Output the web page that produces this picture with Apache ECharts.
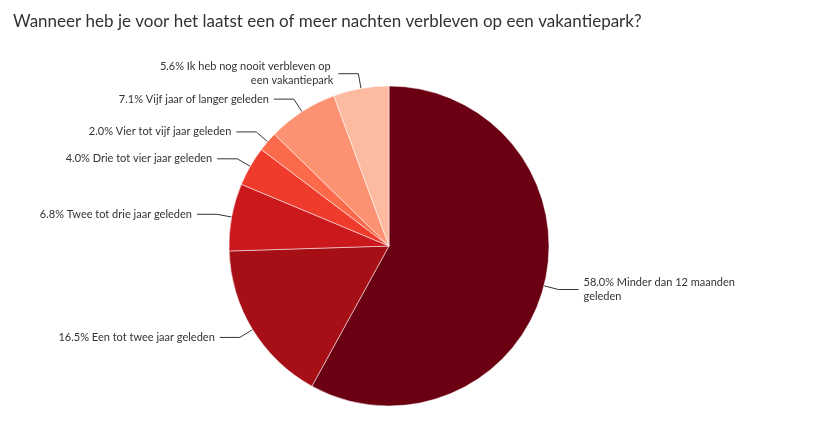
<!DOCTYPE html>
<html><head><meta charset="utf-8">
<script src="https://cdn.jsdelivr.net/npm/echarts@6/dist/echarts.min.js"></script>
<style>html,body{margin:0;padding:0;background:#fff}#c{width:827px;height:433px}</style>
</head><body><div id="c"></div>
<script>
const categories = ["Minder dan 12 maanden geleden","Een tot twee jaar geleden","Twee tot drie jaar geleden","Drie tot vier jaar geleden","Vier tot vijf jaar geleden","Vijf jaar of langer geleden","Ik heb nog nooit verbleven op een vakantiepark"];
const values = [58.0,16.5,6.8,4.0,2.0,7.1,5.6];
const colors = ["#6b0012","#a50f15","#cb181d","#ef3b2c","#fb6a4a","#fc9272","#fcbba1"];
const chart = echarts.init(document.getElementById('c'));
chart.setOption({
  animation:false,
  title:{text:"Wanneer heb je voor het laatst een of meer nachten verbleven op een vakantiepark?",left:8,top:8,textStyle:{fontFamily:"Lato",fontSize:17,fontWeight:'normal',color:'#333'}},
  series:[{
    type:'pie',center:[389,246],radius:[0,160],startAngle:90,clockwise:true,
    data:categories.map((n,i)=>({name:n,value:values[i],itemStyle:{color:colors[i]}})),
    label:{formatter:p=>p.value.toFixed(1)+'% '+p.name,fontFamily:'Lato',fontSize:11,color:'#333',width:175,overflow:'break',lineHeight:14},
    labelLine:{length:15,length2:20,lineStyle:{color:'#333',width:1}},
    itemStyle:{borderColor:'#fff',borderWidth:0.5}
  }]
});
</script></body></html>
